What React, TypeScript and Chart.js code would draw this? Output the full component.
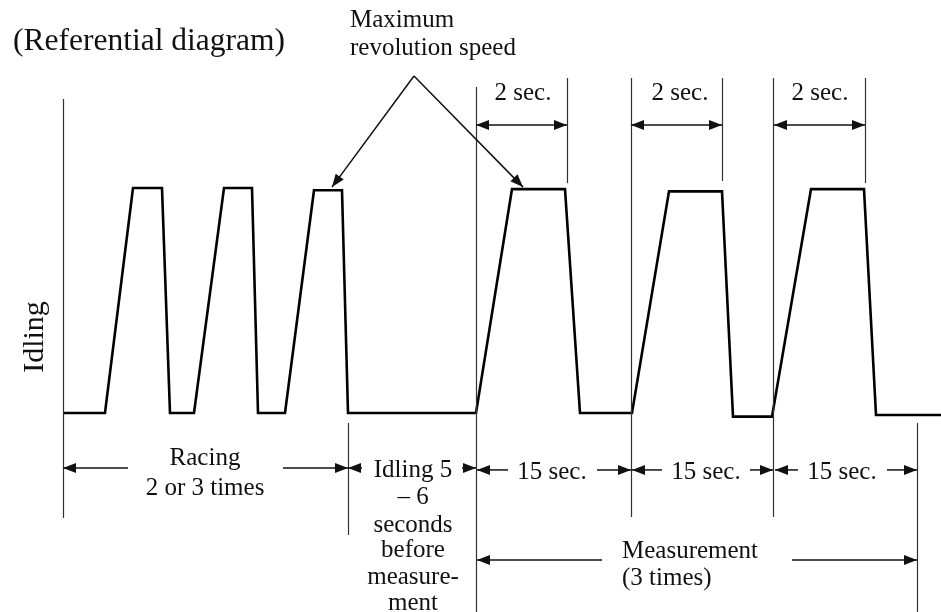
import React, { useEffect, useRef } from "react";
import { Chart, registerables } from "chart.js";

Chart.register(...registerables);

// Waveform: time position (arbitrary units) and engine speed (% of maximum, idle = 0)
const waveT = [63, 105, 133, 162, 170, 194, 224, 252, 258, 285, 314, 342, 348, 476, 512, 565, 580, 632, 669, 722, 733, 772, 811, 864, 876, 941];
const waveRpm = [0, 0, 100, 100, 0, 0, 100, 100, 0, 0, 99, 99, 0, 0, 99.5, 99.5, 0, 0, 98.5, 98.5, -1.6, -1.6, 99.5, 99.5, -0.9, -0.9];

// Vertical guide lines
const guideT = [63, 348, 476, 567, 631, 722, 773, 865, 917];
const guideTop = [139.6, -4.4, 144.9, 148.9, 148.9, 148.9, 148.9, 148.9, -4.4];
const guideBottom = [-46.7, -54.2, -88.4, 102.2, -46.2, 103.1, -46.2, 102.2, -88.4];

// Double-headed "2 sec." spans
const secStart = [476, 631, 774];
const secEnd = [567, 722, 865];
const secLevel = 128;
const secLabelT = [523, 680, 820];
const secLabelRpm = 139.1;

// Single-headed arrows (tail -> tip)
const arrowTailT = [128, 283, 362, 462, 508, 597, 662, 750, 798, 887, 602, 792, 414, 414];
const arrowTailRpm = [-24.4, -24.4, -24.4, -24.4, -25.3, -25.3, -25.3, -25.3, -25.3, -25.3, -65.3, -65.3, 149.8, 149.8];
const arrowTipT = [63, 348, 348, 476, 477, 631, 632, 773, 775, 917, 477, 917, 332, 523];
const arrowTipRpm = [-24.4, -24.4, -24.4, -24.4, -25.3, -25.3, -25.3, -25.3, -25.3, -25.3, -65.3, -65.3, 100.4, 100.4];

// Text labels
const labelText = [
  "Maximum", "revolution speed",
  "Racing", "2 or 3 times",
  "Idling 5", "\u2013 6", "seconds", "before", "measure-", "ment",
  "15 sec.", "15 sec.", "15 sec.",
  "Measurement", "(3 times)",
];
const labelT = [350, 350, 205, 205, 413, 413, 413, 413, 413, 413, 552, 706, 842, 622, 622];
const labelRpm = [171.6, 159.1, -23.1, -36.4, -28.4, -40.4, -52.9, -64, -76, -87.6, -29.3, -29.3, -29.3, -64.4, -76.4];
const labelAlign = ["left", "left", "center", "center", "center", "center", "center", "center", "center", "center", "center", "center", "center", "left", "left"];

const titleText = "(Referential diagram)";
const titleT = 13;
const titleRpm = 161.3;
const yLabelText = "Idling";
const yLabelT = 35;
const yLabelRpm = 33.8;

const SERIF = '"Liberation Serif", "Times New Roman", serif';

const diagramPlugin = {
  id: "diagram",
  afterDatasetsDraw(chart: any) {
    const ctx = chart.ctx;
    const xs = chart.scales.x;
    const ys = chart.scales.y;
    const px = (v: number) => xs.getPixelForValue(v);
    const py = (v: number) => ys.getPixelForValue(v);

    const head = (x1: number, y1: number, x2: number, y2: number) => {
      const ang = Math.atan2(y2 - y1, x2 - x1);
      const len = 13;
      const hw = 5;
      ctx.beginPath();
      ctx.moveTo(x2, y2);
      ctx.lineTo(x2 - len * Math.cos(ang) + hw * Math.sin(ang), y2 - len * Math.sin(ang) - hw * Math.cos(ang));
      ctx.lineTo(x2 - len * Math.cos(ang) - hw * Math.sin(ang), y2 - len * Math.sin(ang) + hw * Math.cos(ang));
      ctx.closePath();
      ctx.fill();
    };

    ctx.save();
    // guides
    ctx.strokeStyle = "#333";
    ctx.lineWidth = 1.2;
    guideT.forEach((t, i) => {
      const x = Math.round(px(t)) + 0.5;
      ctx.beginPath();
      ctx.moveTo(x, py(guideTop[i]));
      ctx.lineTo(x, py(guideBottom[i]));
      ctx.stroke();
    });

    ctx.strokeStyle = "#111";
    ctx.fillStyle = "#111";
    ctx.lineWidth = 1.5;
    // 2 sec spans
    secStart.forEach((s, i) => {
      const y = py(secLevel);
      const a = px(s), b = px(secEnd[i]);
      ctx.beginPath();
      ctx.moveTo(a, y);
      ctx.lineTo(b, y);
      ctx.stroke();
      head(b, y, a, y);
      head(a, y, b, y);
    });
    // single arrows
    arrowTailT.forEach((t, i) => {
      const x1 = px(t), y1 = py(arrowTailRpm[i]);
      const x2 = px(arrowTipT[i]), y2 = py(arrowTipRpm[i]);
      ctx.beginPath();
      ctx.moveTo(x1, y1);
      ctx.lineTo(x2, y2);
      ctx.stroke();
      head(x1, y1, x2, y2);
    });

    // texts
    ctx.fillStyle = "#111";
    ctx.textBaseline = "alphabetic";
    ctx.font = `25px ${SERIF}`;
    labelText.forEach((txt, i) => {
      ctx.textAlign = labelAlign[i];
      ctx.fillText(txt, px(labelT[i]), py(labelRpm[i]));
    });
    secLabelT.forEach((t) => {
      ctx.textAlign = "center";
      ctx.fillText("2 sec.", px(t), py(secLabelRpm));
    });
    ctx.font = `31.5px ${SERIF}`;
    ctx.textAlign = "left";
    ctx.fillText(titleText, px(titleT), py(titleRpm));

    ctx.save();
    ctx.translate(px(yLabelT), py(yLabelRpm));
    ctx.rotate(-Math.PI / 2);
    ctx.font = `30px ${SERIF}`;
    ctx.textAlign = "center";
    ctx.textBaseline = "middle";
    ctx.fillText(yLabelText, 0, 0);
    ctx.restore();

    ctx.restore();
  },
};

export default function App() {
  const ref = useRef<HTMLCanvasElement>(null);
  useEffect(() => {
    const canvas = ref.current;
    if (!canvas) return;
    const chart = new Chart(canvas, {
      type: "line",
      data: {
        datasets: [
          {
            data: waveT.map((t, i) => ({ x: t, y: waveRpm[i] })),
            borderColor: "#000",
            borderWidth: 2.6,
            pointRadius: 0,
            fill: false,
            tension: 0,
            borderJoinStyle: "miter",
          },
        ],
      },
      options: {
        animation: false,
        responsive: false,
        maintainAspectRatio: false,
        layout: { padding: 0 },
        plugins: { legend: { display: false }, tooltip: { enabled: false }, title: { display: false } },
        scales: {
          x: { type: "linear", min: 0, max: 941, display: false },
          y: { type: "linear", min: -88.44, max: 183.56, display: false },
        },
        events: [],
      },
      plugins: [diagramPlugin],
    });
    return () => chart.destroy();
  }, []);
  return (
    <div style={{ position: "absolute", left: 0, top: 0, width: 941, height: 612, background: "#fff" }}>
      <canvas ref={ref} width={941} height={612} style={{ display: "block" }} />
    </div>
  );
}
